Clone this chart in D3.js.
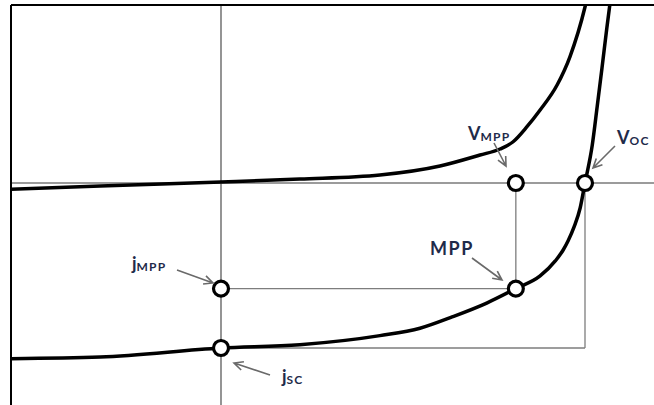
<!DOCTYPE html>
<html>
<head>
<meta charset="utf-8">
<script src="https://cdn.jsdelivr.net/npm/d3@7"></script>
<style>
  html, body { margin: 0; padding: 0; background: #fff; }
  svg { display: block; }
  .lbl { font-family: Lato, "Open Sans", sans-serif; font-weight: 700; fill: #1f2b4a; }
</style>
</head>
<body>
<svg id="chart" width="654" height="405"></svg>
<script>
// J–V characteristic of a solar cell: dark curve and illuminated curve
// voltage in V, current density in mA/cm²
const darkV = [-0.36, -0.199, 0, 0.130, 0.262, 0.361, 0.427, 0.460, 0.481, 0.504, 0.526, 0.554, 0.575, 0.600, 0.608];
const darkJ = [-0.8, -0.36, 0.12, 0.48, 0.97, 2.06, 3.39, 4.12, 4.97, 6.79, 8.85, 11.88, 15.27, 21.33, 23.9];

const lightV = [-0.36, -0.199, 0, 0.130, 0.262, 0.328, 0.382, 0.438, 0.486, 0.526, 0.551, 0.564, 0.572, 0.582, 0.592, 0.600, 0.612, 0.620, 0.628, 0.636, 0.643];
const lightJ = [-21.3, -21.1, -20.0, -19.6, -18.5, -17.6, -16.2, -14.55, -12.8, -11.27, -9.45, -8.12, -7.03, -5.33, -3.03, 0, 4.61, 9.21, 13.94, 18.79, 22.79];

// characteristic points
const Voc = 0.600;
const jsc = -20.0;
const Vmpp = 0.486;
const jmpp = -12.8;

const svg = d3.select("#chart");
const W = 654, H = 405;
const frameL = 11, frameT = 5;

const x = d3.scaleLinear().domain([0, 0.6]).range([221, 585]);
const y = d3.scaleLinear().domain([0, -20]).range([183, 348]);

svg.append("defs").append("clipPath").attr("id", "plot")
  .append("rect").attr("x", frameL).attr("y", frameT).attr("width", W - frameL).attr("height", H - frameT);

const g = svg.append("g").attr("clip-path", "url(#plot)");

// axes through the origin
g.append("line").attr("x1", frameL).attr("x2", W).attr("y1", y(0)).attr("y2", y(0))
  .attr("stroke", "#7a7a7a").attr("stroke-width", 1.6);
g.append("line").attr("x1", x(0)).attr("x2", x(0)).attr("y1", frameT).attr("y2", H)
  .attr("stroke", "#7a7a7a").attr("stroke-width", 1.6);

// guide lines to the characteristic points
const guide = (x1, y1, x2, y2) => g.append("line")
  .attr("x1", x1).attr("y1", y1).attr("x2", x2).attr("y2", y2)
  .attr("stroke", "#7d7d7d").attr("stroke-width", 1.3);
guide(x(0), y(jmpp), x(Vmpp), y(jmpp));
guide(x(Vmpp), y(0), x(Vmpp), y(jmpp));
guide(x(Voc), y(0), x(Voc), y(jsc));
guide(x(0), y(jsc), x(Voc), y(jsc));

// curves
const line = d3.line().x(d => x(d[0])).y(d => y(d[1])).curve(d3.curveMonotoneX);
g.append("path").datum(d3.zip(darkV, darkJ)).attr("d", line)
  .attr("fill", "none").attr("stroke", "#000").attr("stroke-width", 3.5);
g.append("path").datum(d3.zip(lightV, lightJ)).attr("d", line)
  .attr("fill", "none").attr("stroke", "#000").attr("stroke-width", 3.5);

// frame (top and left edges)
svg.append("line").attr("x1", frameL).attr("x2", W).attr("y1", frameT).attr("y2", frameT)
  .attr("stroke", "#000").attr("stroke-width", 2);
svg.append("line").attr("x1", frameL).attr("x2", frameL).attr("y1", frameT).attr("y2", H)
  .attr("stroke", "#000").attr("stroke-width", 2);

// markers
const pts = [[Vmpp, 0], [Voc, 0], [0, jmpp], [Vmpp, jmpp], [0, jsc]];
g.selectAll("circle.pt").data(pts).join("circle").attr("class", "pt")
  .attr("cx", d => x(d[0])).attr("cy", d => y(d[1])).attr("r", 7.5)
  .attr("fill", "#fff").attr("stroke", "#000").attr("stroke-width", 3.2);

// arrows
function arrow(x1, y1, x2, y2) {
  const a = Math.atan2(y2 - y1, x2 - x1), L = 10, s = 0.45;
  g.append("path")
    .attr("d", `M${x1},${y1}L${x2},${y2}` +
      `M${x2 - L * Math.cos(a - s)},${y2 - L * Math.sin(a - s)}L${x2},${y2}` +
      `L${x2 - L * Math.cos(a + s)},${y2 - L * Math.sin(a + s)}`)
    .attr("fill", "none").attr("stroke", "#6a6a6a").attr("stroke-width", 1.6);
}
arrow(494, 143, 506, 166);
arrow(615, 146, 593, 168);
arrow(177, 270, 213, 283);
arrow(472, 258, 502, 280);
arrow(270, 375, 234, 363);

// labels
function label(px, py, main, sub) {
  const t = svg.append("text").attr("class", "lbl").attr("x", px).attr("y", py);
  t.append("tspan").attr("font-size", 18).attr("letter-spacing", sub ? 0 : 1.5).text(main);
  if (sub) t.append("tspan").attr("font-size", 12).attr("letter-spacing", 1.2).attr("dy", 1).text(sub);
}
label(468, 140, "V", "MPP");
label(617, 144, "V", "OC");
label(132, 270, "j", "MPP");
label(282, 383, "j", "SC");
label(430, 255, "MPP");
</script>
</body>
</html>
